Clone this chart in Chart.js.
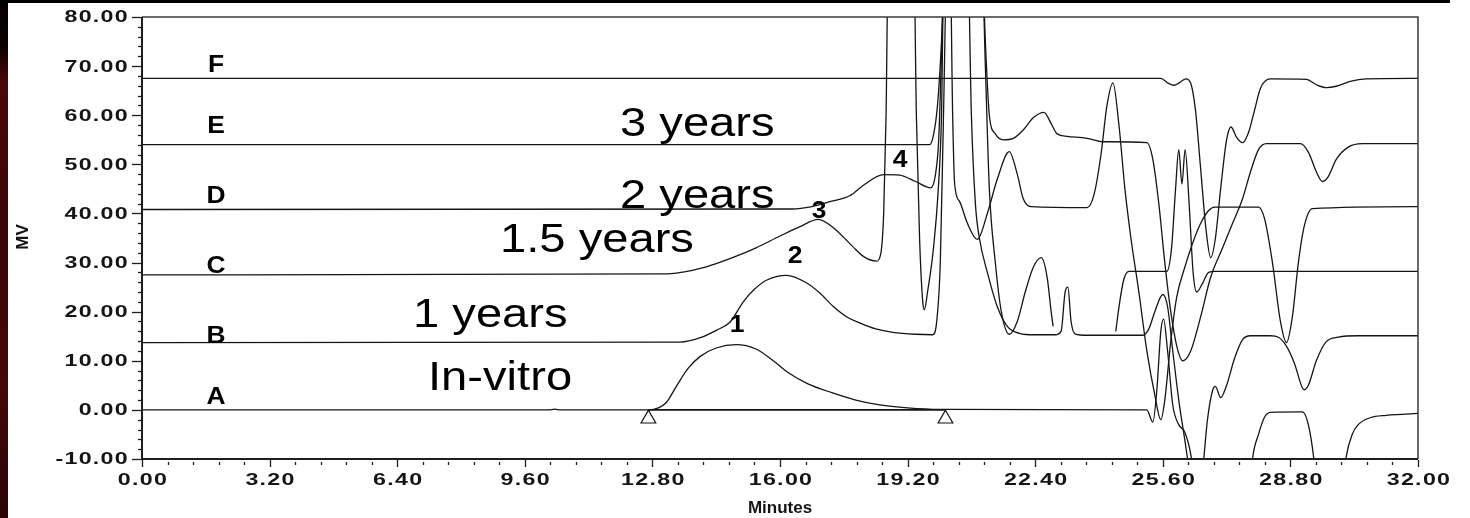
<!DOCTYPE html>
<html>
<head>
<meta charset="utf-8">
<script src="https://cdn.jsdelivr.net/npm/chart.js@4.4.1/dist/chart.umd.min.js"></script>
<style>
  html, body { margin: 0; padding: 0; background: #fff; }
  #wrap { position: relative; width: 1470px; height: 518px; }
  canvas { display: block; }
</style>
</head>
<body>
<div id="wrap"><canvas id="chromatogram" width="1470" height="518"></canvas></div>
<script>
// Axis ticks
const yTicks = [-10, 0, 10, 20, 30, 40, 50, 60, 70, 80];
const xTicks = [0, 3.2, 6.4, 9.6, 12.8, 16, 19.2, 22.4, 25.6, 28.8, 32];

// Trace identifiers and sample names
const traceNames = ['A', 'B', 'C', 'D', 'E', 'F'];
const sampleNames = ['In-vitro', '1 years', '1.5 years', '2 years', '3 years'];
const peakNumbers = ['1', '2', '3', '4'];

// Detector traces, [minutes, mV]
const traceA = [[0,0],[10.2,0],[10.35,0.15],[10.5,0],[12.7,0],[12.95,0.4],[13.15,1.5],[13.4,4.8],[13.7,8.5],[14.0,10.9],[14.4,12.6],[14.9,13.3],[15.4,12.4],[15.8,10.2],[16.2,7.6],[16.7,5.3],[17.3,3.5],[17.9,2.0],[18.5,1.0],[19.2,0.4],[20.0,0.1],[25.2,0],[25.35,-2.5],[25.45,4],[25.55,16],[25.62,18.5],[25.72,12],[25.85,1],[26.0,-3],[26.15,-4.5],[26.3,-9],[26.45,-18],[26.6,-30],[27.6,-30],[27.75,-20],[27.85,-10],[28.0,-5],[28.15,-1.5],[28.3,-0.5],[29.1,-0.4],[29.25,-3],[29.38,-9.5],[29.5,-20],[30.05,-20],[30.2,-9.5],[30.35,-5],[30.5,-3],[30.8,-1.6],[31.2,-1.1],[31.6,-0.9],[32,-0.7]];
const traceB = [[0,13.7],[13.5,13.8],[14.0,14.7],[14.4,16.2],[14.75,17.9],[15.07,21.9],[15.35,24.5],[15.66,26.4],[16.16,27.4],[16.66,25.9],[17.0,23.8],[17.33,21.1],[17.7,18.8],[18.0,17.7],[18.4,16.5],[18.83,15.8],[19.4,15.4],[19.83,15.3],[19.93,18],[20.02,30],[20.1,60],[20.2,95],[20.7,95],[20.8,60],[20.9,42],[21.0,35],[21.2,28],[21.45,21],[21.7,17],[22.0,15.6],[22.4,15.3],[22.9,15.3],[23.05,16],[23.15,24],[23.22,25],[23.3,18],[23.4,15.5],[23.7,15.2],[25.1,15.2],[25.25,16.5],[25.4,20],[25.6,23.5],[25.72,21],[25.85,12],[26.0,2],[26.15,-6],[26.3,-14],[26.45,-18],[26.6,-12],[26.72,-2],[26.85,4],[26.92,4.8],[27.05,2.5],[27.2,5],[27.4,10.5],[27.6,14.3],[27.8,15.1],[28.3,15.1],[28.5,14.8],[28.7,13],[28.9,9.5],[29.1,4.5],[29.15,4.1],[29.25,5],[29.45,10],[29.7,13.9],[30.0,14.8],[30.5,15.1],[32,15.1]];
const traceC = [[0,27.5],[13.2,27.7],[13.6,28.1],[14.0,28.8],[14.4,29.8],[14.81,31.0],[15.4,33.0],[16.0,35.4],[16.5,37.3],[16.96,38.8],[17.35,37.0],[17.82,33.3],[18.1,31.2],[18.42,30.3],[18.52,31.5],[18.6,40],[18.66,60],[18.72,95],[19.35,95],[19.42,60],[19.5,35],[19.58,22],[19.62,20.4],[19.7,24],[19.85,33],[19.97,45],[20.05,60],[20.12,95],[21.05,95],[21.15,70],[21.25,45],[21.4,30],[21.55,20],[21.75,15.4],[21.95,18],[22.15,24],[22.35,29],[22.55,31],[22.7,27],[22.8,20],[22.85,17],[23.6,null],[24.42,16],[24.52,22],[24.62,26.5],[24.75,28.2],[25.7,28.2],[25.82,33],[25.92,45],[26.0,53],[26.08,46],[26.16,53],[26.26,42],[26.36,28],[26.45,24],[26.58,25.5],[26.75,28],[26.9,28.2],[32,28.2]];
const traceD = [[0,40.8],[16.3,40.9],[16.8,41.4],[17.3,42.5],[17.75,43.6],[18.1,45.8],[18.6,47.9],[19.0,47.8],[19.4,46.5],[19.78,45.2],[19.9,48],[19.98,55],[20.06,75],[20.14,95],[20.26,95],[20.33,60],[20.38,46],[20.5,42.5],[20.7,38],[20.95,34.7],[21.2,40],[21.45,47],[21.75,52.6],[21.95,48],[22.1,43],[22.3,41.4],[23.7,41.2],[23.88,44],[24.05,52],[24.2,62],[24.35,66.6],[24.5,58],[24.65,45],[24.8,35],[25.0,24],[25.2,12],[25.4,3],[25.55,-2],[25.65,2],[25.8,14],[25.95,23],[26.15,29],[26.35,34],[26.55,38],[26.75,40.6],[26.9,41.3],[28.0,41.3],[28.15,39],[28.35,30],[28.55,18],[28.7,13.7],[28.85,19],[29.0,30],[29.15,37.5],[29.35,41],[32,41.4]];
const traceE = [[0,54],[19.75,54],[19.85,56],[19.95,62],[20.05,75],[20.15,95],[21.05,95],[21.15,75],[21.25,60],[21.4,56.2],[21.6,55],[21.85,55.3],[22.1,57],[22.35,59.5],[22.62,60.6],[22.8,58.3],[22.95,56.2],[23.2,55.7],[23.7,55.3],[24.1,54.6],[25.2,54.4],[25.35,51],[25.5,42],[25.65,30],[25.8,20],[25.95,13],[26.1,10],[26.3,12],[26.55,19],[26.8,27],[27.1,33],[27.35,38],[27.6,43],[27.8,48.5],[28.0,53],[28.2,54.2],[29.05,54.2],[29.25,52.5],[29.45,48.5],[29.6,46.5],[29.75,47.5],[29.95,51],[30.25,53.5],[30.6,54.2],[32,54.2]];
const traceF = [[0,67.5],[25.55,67.5],[25.72,66.6],[25.88,66.1],[26.03,66.7],[26.18,67.4],[26.3,66.5],[26.42,61],[26.55,49],[26.68,37],[26.8,31],[26.92,35],[27.05,45],[27.2,55],[27.31,57.6],[27.45,55.5],[27.6,54.4],[27.75,56.5],[27.9,61],[28.05,65.5],[28.3,67.4],[29.2,67.3],[29.45,66.2],[29.7,65.6],[29.95,65.9],[30.3,66.9],[30.7,67.4],[32,67.5]];

// Peak 1 integration: baseline drawn between start/end marks, [minutes, mV]
const integrationBaseline = [[12.7, 0], [20.15, 0]];
const integrationMarks = [[12.7, -1.8], [20.15, -1.8]];

const traces = [traceA, traceB, traceC, traceD, traceE, traceF];
const toXY = pts => pts.map(p => ({ x: p[0], y: p[1] }));

// Text placement (pixels)
const namePos = [[216, 397], [216, 336], [216, 266], [216, 196], [216, 126], [216, 65]];
const samplePos = [[428, 390], [413, 327], [500, 252], [620, 208], [620, 136]];
const peakPos = [[737, 326], [795, 257], [819, 212], [900, 161]];

function stretched(ctx, text, x, y, sx, align) {
  ctx.save();
  ctx.translate(x, y);
  ctx.scale(sx, 1);
  ctx.textAlign = align;
  ctx.fillText(text, 0, 0);
  ctx.restore();
}

const frame = {
  id: 'frame',
  beforeDraw(chart) {
    const { ctx, width, height } = chart;
    ctx.save();
    ctx.fillStyle = '#ffffff';
    ctx.fillRect(0, 0, width, height);
    const g = ctx.createLinearGradient(0, 0, 0, height);
    g.addColorStop(0, '#030000');
    g.addColorStop(0.09, '#0c0101');
    g.addColorStop(0.16, '#4a0808');
    g.addColorStop(0.45, '#3a0505');
    g.addColorStop(0.75, '#450707');
    g.addColorStop(1, '#2a0303');
    ctx.fillStyle = g;
    ctx.fillRect(0, 0, 8, height);
    ctx.fillStyle = '#000';
    ctx.fillRect(0, 0, 1450, 3);
    ctx.restore();
  },
  afterDraw(chart) {
    const { ctx, chartArea: a, scales } = chart;
    const xs = scales.x, ys = scales.y;
    ctx.save();

    // frame
    ctx.strokeStyle = '#3a3a3a';
    ctx.lineWidth = 1.5;
    ctx.beginPath();
    ctx.moveTo(a.left, a.top); ctx.lineTo(a.right, a.top); ctx.lineTo(a.right, a.bottom);
    ctx.stroke();
    ctx.strokeStyle = '#1e1e1e';
    ctx.lineWidth = 2;
    ctx.beginPath();
    ctx.moveTo(a.left, a.top); ctx.lineTo(a.left, a.bottom); ctx.lineTo(a.right, a.bottom);
    ctx.stroke();

    // y ticks
    ctx.lineWidth = 1.3;
    for (let v = -10; v <= 80; v += 2) {
      const py = Math.round(ys.getPixelForValue(v)) + 0.5;
      const major = v % 10 === 0;
      ctx.beginPath();
      ctx.moveTo(a.left - (major ? 10 : 4), py);
      ctx.lineTo(a.left, py);
      ctx.stroke();
    }
    // x ticks
    for (let i = 0; i <= 50; i++) {
      const v = i * 0.64;
      const px = Math.round(xs.getPixelForValue(v)) + 0.5;
      const major = i % 5 === 0;
      ctx.beginPath();
      ctx.moveTo(px, a.bottom + (major ? 1 : 3));
      ctx.lineTo(px, a.bottom + (major ? 8 : 6));
      ctx.stroke();
    }

    // tick labels
    ctx.fillStyle = '#151515';
    ctx.font = 'bold 16px "Liberation Sans", Arial, sans-serif';
    ctx.letterSpacing = '0.9px';
    ctx.textBaseline = 'middle';
    yTicks.forEach(v => {
      stretched(ctx, v.toFixed(2), a.left - 13, ys.getPixelForValue(v) + 1, 1.45, 'right');
    });
    xTicks.forEach(v => {
      stretched(ctx, v.toFixed(2), xs.getPixelForValue(v) + 1, a.bottom + 22, 1.45, 'center');
    });
    ctx.letterSpacing = '0px';

    // axis titles
    ctx.font = 'bold 17px "Liberation Sans", Arial, sans-serif';
    stretched(ctx, 'Minutes', (a.left + a.right) / 2, 508, 1.0, 'center');
    ctx.save();
    ctx.translate(23, 237);
    ctx.rotate(-Math.PI / 2);
    ctx.font = 'bold 17px "Liberation Sans", Arial, sans-serif';
    ctx.textAlign = 'center';
    ctx.fillText('MV', 0, 0);
    ctx.restore();

    // trace names
    ctx.fillStyle = '#000';
    ctx.font = 'bold 24px "Liberation Sans", Arial, sans-serif';
    traceNames.forEach((t, i) => stretched(ctx, t, namePos[i][0], namePos[i][1], 1.1, 'center'));

    // peak numbers
    ctx.font = 'bold 23px "Liberation Sans", Arial, sans-serif';
    peakNumbers.forEach((t, i) => stretched(ctx, t, peakPos[i][0], peakPos[i][1], 1.15, 'center'));

    // sample annotations
    ctx.textBaseline = 'alphabetic';
    ctx.font = '41px "Liberation Sans", Arial, sans-serif';
    sampleNames.forEach((t, i) => stretched(ctx, t, samplePos[i][0], samplePos[i][1], 1.15, 'left'));

    ctx.restore();
  }
};

const lineStyle = {
  borderColor: '#151515',
  borderWidth: 1.3,
  pointRadius: 0,
  fill: false,
  cubicInterpolationMode: 'monotone',
  spanGaps: false,
  order: 1
};

new Chart(document.getElementById('chromatogram'), {
  type: 'line',
  data: {
    datasets: [
      {
        label: 'marks',
        data: toXY(integrationMarks),
        showLine: false,
        pointStyle: 'triangle',
        pointRadius: 8.5,
        pointBorderWidth: 1.2,
        pointBorderColor: '#111',
        pointBackgroundColor: '#fff',
        order: 0
      },
      Object.assign({ label: 'baseline', data: toXY(integrationBaseline) }, lineStyle, { borderWidth: 1.6, cubicInterpolationMode: 'default' }),
      ...traces.map((t, i) => Object.assign({ label: traceNames[i], data: toXY(t) }, lineStyle))
    ]
  },
  options: {
    responsive: false,
    animation: false,
    events: [],
    layout: { padding: { left: 142, top: 17, right: 52, bottom: 59 } },
    scales: {
      x: { type: 'linear', min: 0, max: 32, display: false },
      y: { type: 'linear', min: -10, max: 80, display: false }
    },
    plugins: { legend: { display: false }, tooltip: { enabled: false } }
  },
  plugins: [frame]
});
</script>
</body>
</html>
